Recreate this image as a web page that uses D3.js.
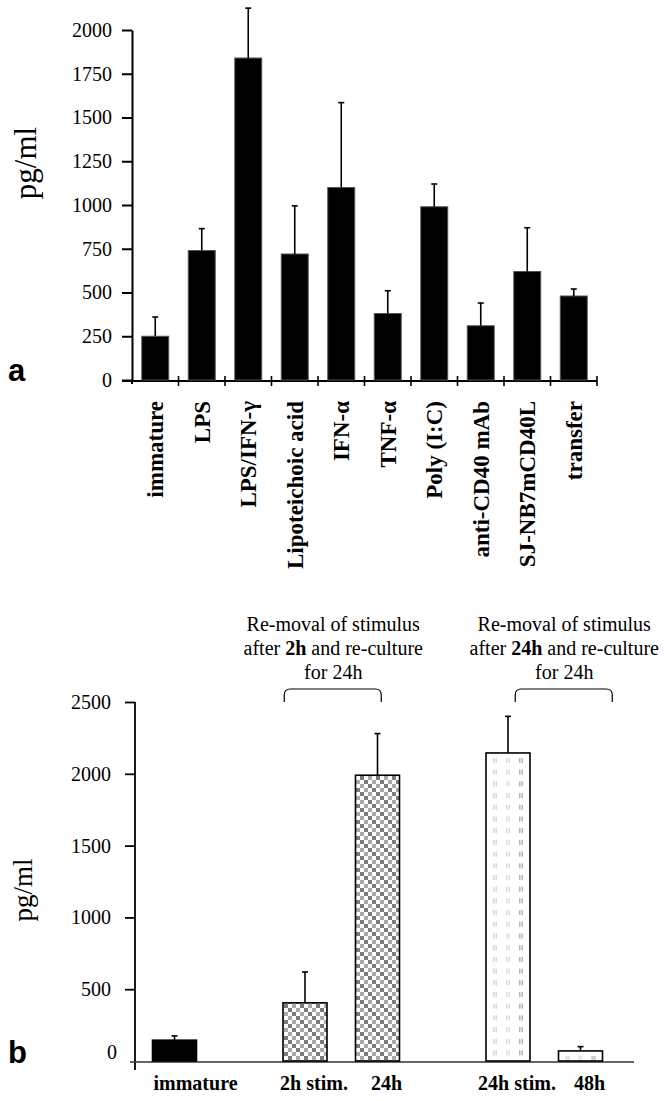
<!DOCTYPE html>
<html>
<head>
<meta charset="utf-8">
<script src="https://cdn.jsdelivr.net/npm/d3@7"></script>
<style>
  body { margin: 0; background: #fff; }
  svg { display: block; }
  svg text { font-family: "Liberation Serif", "Times New Roman", serif; }
  svg text.sans { font-family: "Liberation Sans", Arial, sans-serif; }
</style>
</head>
<body>
<svg id="chart" width="664" height="1101"></svg>
<script>
// panel a
const stimuliA = ["immature", "LPS", "LPS/IFN-γ", "Lipoteichoic acid", "IFN-α", "TNF-α",
                  "Poly (I:C)", "anti-CD40 mAb", "SJ-NB7mCD40L", "transfer"];
const meansA  = [250, 740, 1840, 720, 1100, 380, 990, 310, 620, 480];
const errorsA = [110, 125, 285, 275, 485, 130, 130, 130, 250, 40];
const ticksA  = [0, 250, 500, 750, 1000, 1250, 1500, 1750, 2000];

// panel b
const conditionsB = ["immature", "2h stim.", "24h", "24h stim.", "48h"];
const groupsB     = [0, 1, 1, 2, 2];
const meansB      = [145, 405, 1990, 2145, 70];
const errorsB     = [30, 215, 290, 255, 30];
const ticksB      = [0, 500, 1000, 1500, 2000, 2500];
const noteLines   = ["Re-moval of stimulus", "after | and re-culture", "for 24h"];
const noteBold    = ["2h", "24h"];

const svg = d3.select("#chart");
const defs = svg.append("defs");

// ---------- panel a ----------
const xA = d3.scaleBand().domain(stimuliA).range([132, 597]).paddingInner(0.42).paddingOuter(0.21);
const yA = d3.scaleLinear().domain([0, 2000]).range([380, 30]);

const gA = svg.append("g");

gA.append("g")
  .attr("transform", "translate(132,0)")
  .call(d3.axisLeft(yA).tickValues(ticksA).tickFormat(d3.format("d"))
    .tickSize(10).tickPadding(10).tickSizeOuter(0))
  .call(g => g.selectAll("path,line").attr("stroke", "#000").attr("stroke-width", 2))
  .call(g => g.selectAll("text").attr("font-size", 20).attr("fill", "#000"));

// x axis with ticks at band boundaries
gA.append("line")
  .attr("x1", 122).attr("x2", xA.range()[1])
  .attr("y1", yA(0) + 1).attr("y2", yA(0) + 1)
  .attr("stroke", "#000").attr("stroke-width", 2);
gA.append("line")
  .attr("x1", 132).attr("x2", 132)
  .attr("y1", yA(0)).attr("y2", yA(0) + 4)
  .attr("stroke", "#000").attr("stroke-width", 2);

gA.selectAll(".xtick")
  .data(d3.range(1, stimuliA.length + 1))
  .join("line")
  .attr("x1", i => xA.range()[0] + i * xA.step())
  .attr("x2", i => xA.range()[0] + i * xA.step())
  .attr("y1", yA(0) - 4).attr("y2", yA(0) + 6)
  .attr("stroke", "#000").attr("stroke-width", 1.6);

gA.selectAll(".bar")
  .data(stimuliA)
  .join("rect")
  .attr("x", d => xA(d))
  .attr("width", xA.bandwidth())
  .attr("y", (d, i) => yA(meansA[i]))
  .attr("height", (d, i) => yA(0) - yA(meansA[i]))
  .attr("fill", "#000")
  .attr("stroke", "#555").attr("stroke-width", 1);

const errA = gA.selectAll(".err").data(stimuliA).join("g");
errA.append("line")
  .attr("x1", d => xA(d) + xA.bandwidth() / 2)
  .attr("x2", d => xA(d) + xA.bandwidth() / 2)
  .attr("y1", (d, i) => yA(meansA[i]))
  .attr("y2", (d, i) => yA(meansA[i] + errorsA[i]))
  .attr("stroke", "#000").attr("stroke-width", 1.6);
errA.append("line")
  .attr("x1", d => xA(d) + xA.bandwidth() / 2 - 3)
  .attr("x2", d => xA(d) + xA.bandwidth() / 2 + 3)
  .attr("y1", (d, i) => yA(meansA[i] + errorsA[i]))
  .attr("y2", (d, i) => yA(meansA[i] + errorsA[i]))
  .attr("stroke", "#000").attr("stroke-width", 1.6);

gA.selectAll(".xlab")
  .data(stimuliA)
  .join("text")
  .attr("transform", d => `translate(${xA(d) + xA.bandwidth() / 2},401) rotate(-90)`)
  .attr("text-anchor", "end")
  .attr("dy", "0.35em")
  .attr("font-weight", "bold")
  .attr("font-size", 23)
  .text(d => d);

gA.append("text")
  .attr("transform", "translate(36,163) rotate(-90)")
  .attr("text-anchor", "middle")
  .attr("font-size", 31)
  .text("pg/ml");

gA.append("text")
  .attr("class", "sans")
  .attr("x", 8).attr("y", 381)
  .attr("font-weight", "bold")
  .attr("font-size", 31)
  .text("a");

// ---------- panel b ----------
const slot = conditionsB.map((d, i) => i + 0.8 * groupsB[i]);
const xB = d3.scaleLinear().domain([0, d3.max(slot)]).range([174.5, 580.5]);
const yB = d3.scaleLinear().domain([0, 2500]).range([1061, 702]);
const barW = 44;

// fill patterns
const checker = defs.append("pattern")
  .attr("id", "checker")
  .attr("patternUnits", "userSpaceOnUse")
  .attr("width", 16).attr("height", 16);
checker.append("rect").attr("width", 16).attr("height", 16).attr("fill", "#fff");
for (let r = 0; r < 4; r++) {
  for (let c = 0; c < 4; c++) {
    if ((r + c) % 2 === 0) {
      checker.append("rect")
        .attr("x", c * 4).attr("y", r * 4)
        .attr("width", 4).attr("height", 4)
        .attr("fill", ((r >> 1) + (c >> 1)) % 2 ? "#a9a9a9" : "#7b7b7b");
    }
  }
}

function hatch(id, x0, y0) {
  const p = defs.append("pattern")
    .attr("id", id)
    .attr("patternUnits", "userSpaceOnUse")
    .attr("x", x0).attr("y", y0)
    .attr("width", 39).attr("height", 11.7);
  p.append("rect").attr("width", 39).attr("height", 11.7).attr("fill", "#fff");
  const shades = ["#cdcdcd", "#d6d6d6", "#a3a3a3"];
  shades.forEach((s, k) => {
    for (let l = 0; l < 3; l++) {
      p.append("rect")
        .attr("x", k * 13 + l * 1.6).attr("y", 0)
        .attr("width", 0.8).attr("height", 5)
        .attr("fill", s);
    }
  });
}

const fills = conditionsB.map((d, i) => {
  if (groupsB[i] === 0) return "#000";
  if (groupsB[i] === 1) return "url(#checker)";
  const id = "hatch" + i;
  hatch(id, xB(slot[i]) - barW / 2 + 7, yB(meansB[i]) + 5);
  return `url(#${id})`;
});

const gB = svg.append("g");

gB.append("g")
  .attr("transform", "translate(135,0)")
  .call(d3.axisLeft(yB).tickValues(ticksB).tickFormat(d3.format("d"))
    .tickSize(10).tickPadding(14).tickSizeOuter(0))
  .call(g => g.select(".domain").remove())
  .call(g => g.selectAll("line").attr("stroke", "#000").attr("stroke-width", 1.8))
  .call(g => g.selectAll("text").attr("font-size", 20).attr("fill", "#000"))
  .call(g => g.selectAll(".tick").filter(d => d === 0).select("line").remove())
  .call(g => g.selectAll(".tick").filter(d => d === 0).select("text").attr("dy", "-0.12em").attr("x", -18));

gB.append("line")
  .attr("x1", 135).attr("x2", 135)
  .attr("y1", yB(2500)).attr("y2", yB(0) + 9)
  .attr("stroke", "#000").attr("stroke-width", 1.8);
gB.append("line")
  .attr("x1", 130).attr("x2", 634)
  .attr("y1", yB(0) + 1).attr("y2", yB(0) + 1)
  .attr("stroke", "#333").attr("stroke-width", 1.6);

gB.selectAll(".bar")
  .data(conditionsB)
  .join("rect")
  .attr("x", (d, i) => xB(slot[i]) - barW / 2)
  .attr("width", barW)
  .attr("y", (d, i) => yB(meansB[i]))
  .attr("height", (d, i) => yB(0) - yB(meansB[i]))
  .attr("fill", (d, i) => fills[i])
  .attr("stroke", "#000").attr("stroke-width", 1.6);

const errB = gB.selectAll(".err").data(conditionsB).join("g");
errB.append("line")
  .attr("x1", (d, i) => xB(slot[i]))
  .attr("x2", (d, i) => xB(slot[i]))
  .attr("y1", (d, i) => yB(meansB[i]))
  .attr("y2", (d, i) => yB(meansB[i] + errorsB[i]))
  .attr("stroke", "#000").attr("stroke-width", 1.6);
errB.append("line")
  .attr("x1", (d, i) => xB(slot[i]) - 3)
  .attr("x2", (d, i) => xB(slot[i]) + 3)
  .attr("y1", (d, i) => yB(meansB[i] + errorsB[i]))
  .attr("y2", (d, i) => yB(meansB[i] + errorsB[i]))
  .attr("stroke", "#000").attr("stroke-width", 1.6);

gB.selectAll(".xlab")
  .data(conditionsB)
  .join("text")
  .attr("x", (d, i) => xB(slot[i]) + (i === 0 ? 21 : 9))
  .attr("y", 1090)
  .attr("text-anchor", "middle")
  .attr("font-weight", "bold")
  .attr("font-size", 20)
  .text(d => d);

gB.append("text")
  .attr("transform", "translate(32,890) rotate(-90)")
  .attr("text-anchor", "middle")
  .attr("font-size", 27)
  .text("pg/ml");

gB.append("text")
  .attr("class", "sans")
  .attr("x", 8).attr("y", 1063)
  .attr("font-weight", "bold")
  .attr("font-size", 31)
  .text("b");

// annotations above the re-culture groups
const noteShift = [-8, 20];
noteBold.forEach((b, k) => {
  const idx = conditionsB.map((d, i) => i).filter(i => groupsB[i] === k + 1);
  const cx = (xB(slot[idx[0]]) + xB(slot[idx[1]])) / 2 + noteShift[k];
  const t = gB.append("text")
    .attr("text-anchor", "middle")
    .attr("font-size", 20);
  noteLines.forEach((line, j) => {
    const parts = line.split("|");
    const tl = t.append("tspan").attr("x", cx).attr("y", 631 + j * 24);
    tl.text(parts[0]);
    if (parts.length > 1) {
      t.append("tspan").attr("font-weight", "bold").text(b);
      t.append("tspan").text(parts[1]);
    }
  });
  const x0 = cx - 49, x1 = cx + 48, yt = 689, yb = 702;
  gB.append("path")
    .attr("d", `M${x0},${yb} L${x0},${yt + 6} Q${x0},${yt} ${x0 + 6},${yt} L${x1 - 6},${yt} Q${x1},${yt} ${x1},${yt + 6} L${x1},${yb}`)
    .attr("fill", "none")
    .attr("stroke", "#000").attr("stroke-width", 1.2);
});
</script>
</body>
</html>
